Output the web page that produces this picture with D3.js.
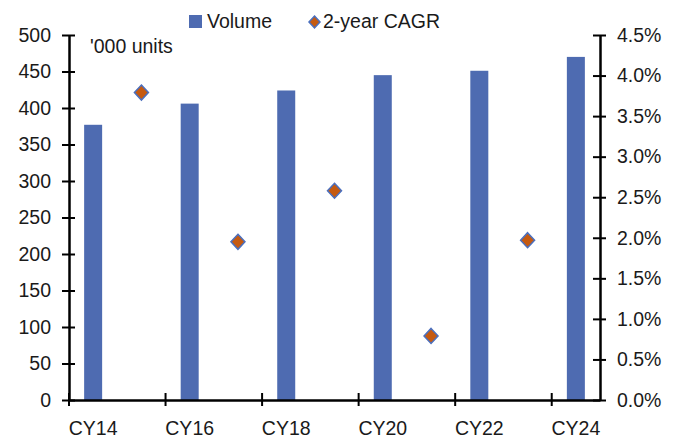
<!DOCTYPE html>
<html>
<head>
<meta charset="utf-8">
<script src="https://cdn.jsdelivr.net/npm/d3@7"></script>
<style>
  body { margin: 0; background: #fff; }
  svg text { font-family: "Liberation Sans", Arial, sans-serif; fill: #1a1a1a; }
</style>
</head>
<body>
<script>
// chart data
var categories = ["CY14", "CY15", "CY16", "CY17", "CY18", "CY19", "CY20", "CY21", "CY22", "CY23", "CY24"];
var volume = [377, null, 406, null, 424, null, 445, null, 451, null, 470];
var cagr = [null, 0.0379, null, 0.0195, null, 0.0258, null, 0.0079, null, 0.0197, null];
var leftTicks = [0, 50, 100, 150, 200, 250, 300, 350, 400, 450, 500];
var rightTicks = [0, 0.005, 0.01, 0.015, 0.02, 0.025, 0.03, 0.035, 0.04, 0.045];

var width = 680;
var height = 439;
var plotLeft = 69, plotRight = 600, plotTop = 35, plotBottom = 400;
var barColor = "#4e6bb1";
var fontSize = "19.5px";

var svg = d3.select("body")
  .append("svg")
  .attr("width", width)
  .attr("height", height);

var xScale = d3.scaleBand().domain(categories).range([plotLeft, plotRight]);
var yLeft = d3.scaleLinear().domain([0, 500]).range([plotBottom, plotTop]);
var yRight = d3.scaleLinear().domain([0, 0.045]).range([plotBottom, plotTop]);

// bars
var barWidth = 18;
svg.selectAll("rect.bar")
  .data(categories.map(function(c, i) { return {cat: c, v: volume[i]}; }).filter(function(d) { return d.v != null; }))
  .enter()
  .append("rect")
  .attr("class", "bar")
  .attr("x", function(d) { return xScale(d.cat) + xScale.bandwidth() / 2 - barWidth / 2; })
  .attr("y", function(d) { return yLeft(d.v); })
  .attr("width", barWidth)
  .attr("height", function(d) { return yLeft(0) - yLeft(d.v); })
  .attr("fill", barColor);

// diamonds
var diamond = "M0,-7.5L7,0L0,7.5L-7,0Z";
svg.selectAll("path.pt")
  .data(categories.map(function(c, i) { return {cat: c, v: cagr[i]}; }).filter(function(d) { return d.v != null; }))
  .enter()
  .append("path")
  .attr("class", "pt")
  .attr("d", diamond)
  .attr("transform", function(d) {
    return "translate(" + (xScale(d.cat) + xScale.bandwidth() / 2) + "," + yRight(d.v) + ")";
  })
  .attr("fill", "#c55a11")
  .attr("stroke", "#4a6fbe")
  .attr("stroke-width", 1.5);

// left axis
var gL = svg.append("g")
  .attr("transform", "translate(" + plotLeft + ",0)")
  .call(d3.axisLeft(yLeft).tickValues(leftTicks).tickSizeOuter(0));
gL.selectAll(".tick line").attr("x1", -7).attr("x2", 6).attr("stroke", "#000").attr("stroke-width", 2);
gL.selectAll(".tick text").attr("x", -18).attr("font-size", fontSize).attr("font-family", null);

// right axis
var gR = svg.append("g")
  .attr("transform", "translate(" + plotRight + ",0)")
  .call(d3.axisRight(yRight).tickValues(rightTicks).tickFormat(d3.format(".1%")).tickSizeOuter(0));
gR.selectAll(".tick line").attr("x1", -7).attr("x2", 6).attr("stroke", "#000").attr("stroke-width", 2);
gR.selectAll(".tick text").attr("x", 17).attr("font-size", fontSize).attr("font-family", null);

// x axis: labels at every other category center, ticks on boundaries
var labelCats = categories.filter(function(c, i) { return i % 2 === 0; });
var gX = svg.append("g")
  .attr("transform", "translate(0," + plotBottom + ")")
  .call(d3.axisBottom(xScale).tickValues(labelCats).tickSize(0).tickPadding(20));
gX.selectAll(".tick text").attr("font-size", fontSize).attr("font-family", null).attr("dy", "0.71em").attr("y", 21);
gX.selectAll(".tick line").remove();
gX.selectAll("line.bt")
  .data(labelCats)
  .enter()
  .append("line")
  .attr("class", "bt")
  .attr("x1", function(d) { return xScale(d); })
  .attr("x2", function(d) { return xScale(d); })
  .attr("y1", -7)
  .attr("y2", 6)
  .attr("stroke", "#000")
  .attr("stroke-width", 2);

svg.selectAll(".domain").attr("stroke", "#000").attr("stroke-width", 2.5);

// unit label
svg.append("text")
  .attr("x", 90)
  .attr("y", 53)
  .attr("font-size", fontSize)
  .text("'000 units");

// legend
svg.append("rect")
  .attr("x", 189).attr("y", 15).attr("width", 13).attr("height", 13)
  .attr("fill", barColor);
svg.append("text")
  .attr("x", 207).attr("y", 28).attr("font-size", fontSize)
  .text("Volume");
svg.append("path")
  .attr("d", "M0,-6L5.5,0L0,6L-5.5,0Z")
  .attr("transform", "translate(314.5,22)")
  .attr("fill", "#c55a11")
  .attr("stroke", "#4a6fbe")
  .attr("stroke-width", 1.5);
svg.append("text")
  .attr("x", 323).attr("y", 28).attr("font-size", fontSize)
  .text("2-year CAGR");
</script>
</body>
</html>
